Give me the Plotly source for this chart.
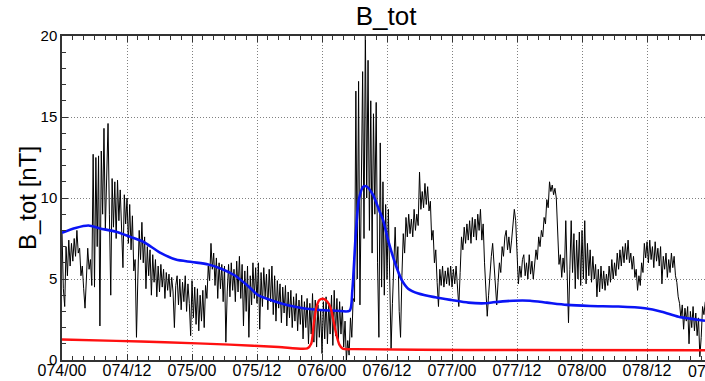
import numpy as np
import plotly.graph_objects as go

# Field magnitude, one sample every 15 minutes starting at 074/00
step_h = 0.25
b_tot = [
    # 074/00 - 074/05:45
    7.9, 4.4, 3.3, 7.0, 5.2, 7.4, 5.8, 7.2, 6.1, 7.5, 6.4, 8.0,
    6.6, 6.9, 5.2, 5.8, 4.4, 3.2, 5.0, 6.9, 5.6, 6.2, 4.6, 12.7,
    # 074/06 - 074/11:45
    4.5, 12.5, 7.0, 12.6, 2.1, 12.9, 9.0, 14.3, 8.0, 11.5, 14.6, 9.0,
    4.0, 11.2, 8.2, 11.0, 7.5, 11.1, 8.6, 10.5, 7.8, 5.7, 10.2, 8.4,
    # 074/12 - 074/17:45
    10.0, 7.2, 9.6, 6.8, 8.9, 5.5, 6.2, 1.4, 5.0, 8.0, 6.2, 8.5,
    6.0, 7.6, 4.4, 7.0, 5.2, 6.8, 4.0, 6.5, 4.8, 6.2, 3.9, 5.8,
    # 074/18 - 074/23:45
    4.2, 5.9, 4.5, 5.6, 3.8, 5.4, 4.3, 5.3, 3.9, 5.1, 4.2, 2.0,
    4.6, 5.2, 3.4, 5.0, 3.1, 4.8, 3.6, 5.2, 3.0, 4.7, 3.5, 1.5,
    # 075/00 - 075/05:45
    4.9, 2.6, 4.5, 2.2, 4.4, 1.8, 4.0, 2.4, 4.3, 2.0, 4.6, 3.8,
    5.8, 4.9, 7.2, 5.6, 6.6, 4.6, 6.3, 3.8, 6.0, 4.4, 5.9, 3.6,
    # 075/06 - 075/11:45
    5.8, 1.1, 4.2, 5.9, 3.9, 6.0, 4.3, 5.6, 3.6, 6.1, 4.2, 6.4,
    3.8, 5.9, 2.1, 5.5, 3.0, 5.8, 1.4, 5.2, 3.4, 6.0, 3.8, 5.7,
    # 075/12 - 075/17:45
    3.5, 6.0, 1.9, 5.4, 3.3, 5.7, 3.9, 5.3, 3.1, 5.6, 3.6, 5.8,
    2.8, 5.2, 2.4, 4.9, 3.2, 4.7, 2.3, 4.5, 2.9, 4.6, 2.1, 4.2,
    # 075/18 - 075/23:45
    2.6, 4.3, 2.0, 3.9, 2.4, 4.1, 1.8, 3.7, 2.2, 4.0, 1.3, 3.6,
    2.0, 3.8, 1.0, 3.5, 1.6, 4.1, 1.1, 3.7, 0.8, 3.4, 1.4, 3.1,
    # 076/00 - 076/05:45
    0.4, 3.6, 1.3, 3.9, 1.0, 3.5, 1.6, 4.0, 0.9, 4.3, 1.5, 3.8,
    1.2, 3.6, 1.6, 3.3, 0.8, 2.4, 0.0, 1.2, 0.3, 2.6, 1.4, 3.8,
    # 076/06 - 076/11:45
    3.6, 16.6, 5.0, 17.2, 3.4, 12.0, 17.8, 7.5, 20.4, 10.0, 18.5, 8.0,
    16.0, 6.6, 15.2, 9.0, 15.9, 6.0, 1.4, 13.4, 4.5, 11.0, 4.0, 9.6,
    # 076/12 - 076/17:45
    5.0, 9.3, 4.1, 0.7, 3.5, 6.4, 8.2, 5.6, 7.0, 3.0, 1.4, 5.2,
    7.8, 6.6, 8.8, 7.6, 9.0, 7.8, 8.7, 7.6, 9.3, 8.0, 9.0, 8.3,
    # 076/18 - 076/23:45
    11.6, 9.3, 10.4, 9.4, 10.9, 9.6, 10.7, 9.2, 9.8, 7.4, 8.0, 6.0,
    6.8, 4.8, 3.3, 5.6, 4.6, 5.8, 4.5, 5.5, 4.7, 5.7, 4.6, 5.8,
    # 077/00 - 077/05:45
    4.5, 5.6, 4.7, 5.8, 4.6, 3.3, 5.4, 7.6, 6.8, 8.2, 7.2, 8.4,
    7.4, 8.6, 7.2, 8.8, 7.6, 8.7, 7.4, 9.0, 8.0, 9.3, 7.4, 8.4,
    # 077/06 - 077/11:45
    6.0, 4.2, 2.7, 4.0, 5.6, 6.4, 7.2, 5.8, 4.6, 3.4, 4.8, 6.0,
    5.4, 7.0, 6.4, 7.6, 8.0, 6.8, 7.6, 6.6, 7.4, 8.4, 9.3, 8.6,
    # 077/12 - 077/17:45
    6.8, 4.7, 5.8, 5.1, 6.2, 6.5, 5.2, 6.0, 5.0, 6.5, 5.3, 6.1,
    5.0, 5.8, 6.8, 6.2, 7.6, 7.0, 8.0, 7.6, 8.8, 8.4, 9.9, 9.4,
    # 077/18 - 077/23:45
    11.0, 10.4, 10.8, 10.2, 10.6, 10.0, 7.8, 5.9, 6.5, 5.1, 6.3, 5.4,
    8.6, 4.6, 2.3, 5.6, 8.6, 5.4, 7.8, 4.4, 7.4, 5.0, 7.9, 4.6,
    # 078/00 - 078/05:45
    8.0, 5.0, 8.6, 4.7, 7.2, 5.2, 6.8, 4.8, 6.4, 5.0, 5.9, 3.9,
    5.6, 4.2, 5.8, 4.4, 5.5, 4.3, 5.3, 4.6, 5.8, 4.8, 6.2, 5.0,
    # 078/06 - 078/11:45
    6.0, 5.2, 6.6, 5.6, 6.8, 5.8, 7.0, 6.0, 7.2, 6.2, 7.4, 6.0,
    6.6, 5.6, 6.4, 5.1, 5.6, 4.3, 5.2, 4.6, 6.0, 5.4, 7.2, 6.3,
    # 078/12 - 078/17:45
    7.3, 6.0, 7.4, 6.2, 7.0, 5.7, 7.3, 6.1, 6.9, 5.8, 7.0, 4.7,
    6.4, 5.6, 6.6, 5.1, 6.2, 5.4, 6.6, 5.7, 6.4, 5.2, 4.8, 3.9,
    # 078/18 - 078/22:45
    3.5, 2.6, 3.4, 1.9, 3.2, 2.4, 3.3, 1.0, 3.0, 2.0, 3.3, 1.8,
    2.9, 1.5, 2.6, 0.2, 1.4, 3.3, 2.8, 3.6,
]
b_hours = np.arange(len(b_tot)) * step_h

# Smoothed background field (blue)
blue_hours = [0, 2.5, 4.9, 7, 10, 12.6, 15, 18, 21, 24, 27, 29.5, 32, 34.4,
              36.2, 38.5, 41.5, 44.5, 47.6, 50.7, 53.1, 53.6, 54.2, 54.8,
              55.6, 56.2, 57.4, 58.6, 59.3, 60.2, 61.5, 62.7, 63.9, 65.8,
              68.9, 71.9, 75, 78.1, 79.6, 83.3, 86.4, 89.5, 93.2, 97.5,
              102.7, 107.6, 110.7, 113.8, 116.8, 118.7]
blue_vals = [7.86, 8.15, 8.3, 8.12, 7.92, 7.6, 7.3, 6.65, 6.2, 6.05, 5.9,
             5.62, 5.2, 4.55, 4.0, 3.7, 3.39, 3.19, 3.09, 3.04, 3.04, 4.3,
             7.6, 9.9, 10.7, 10.72, 10.2, 9.2, 8.6, 7.4, 5.97, 4.94, 4.4,
             4.1, 3.87, 3.7, 3.54, 3.5, 3.56, 3.66, 3.66, 3.54, 3.4, 3.33,
             3.3, 3.19, 2.98, 2.67, 2.51, 2.42]

# Red trace
red_hours = [0, 10, 19, 31, 40, 45.3, 46.0, 46.5, 47.0, 47.5, 48.2, 49.0,
             49.6, 50.2, 50.7, 51.2, 51.8, 54, 75, 118.7]
red_vals = [1.27, 1.18, 1.1, 0.95, 0.8, 0.72, 1.0, 2.3, 3.3, 3.7, 3.78, 3.6,
            3.2, 2.3, 1.5, 0.95, 0.7, 0.67, 0.62, 0.6]

tick_hours = [0, 12, 24, 36, 48, 60, 72, 84, 96, 108, 120]
tick_text = ["074/00", "074/12", "075/00", "075/12", "076/00", "076/12",
             "077/00", "077/12", "078/00", "078/12", "079/00"]

x_range = [0, 118.7]
font = "Liberation Sans, Arial, Helvetica, sans-serif"
axis_col = "#333333"
grid_col = "#808080"

fig = go.Figure()
fig.add_trace(go.Scatter(x=b_hours, y=b_tot, mode="lines",
                         line=dict(color="black", width=1), showlegend=False))
fig.add_trace(go.Scatter(x=blue_hours, y=blue_vals, mode="lines",
                         line=dict(color="#0a14f5", width=2.6, shape="spline",
                                   smoothing=0.7), showlegend=False))
fig.add_trace(go.Scatter(x=red_hours, y=red_vals, mode="lines",
                         line=dict(color="#ff1010", width=2.4, shape="spline",
                                   smoothing=0.7), showlegend=False))

fig.update_layout(
    width=705, height=381,
    margin=dict(l=62, r=0, t=36, b=21, autoexpand=False),
    paper_bgcolor="white", plot_bgcolor="white",
    font=dict(family=font, color="black"),
    title=dict(text="B_tot", x=386 / 705, xref="container", xanchor="center",
               y=1 - 16.3 / 381, yref="container", yanchor="middle",
               font=dict(size=26, family=font, color="black"),
               automargin=False),
)

fig.update_xaxes(
    range=x_range, tickmode="array", automargin=False,
    tickvals=tick_hours[:-1], ticktext=tick_text[:-1],
    ticks="inside", ticklen=6, tickcolor=axis_col, tickwidth=1,
    ticklabelstandoff=-5,
    showline=True, linecolor=axis_col, linewidth=1.5, mirror="ticks",
    showgrid=True, gridcolor=grid_col, griddash="1px,2px", gridwidth=1,
    zeroline=False, tickfont=dict(size=16, family=font, color="black"),
    minor=dict(tickmode="linear", tick0=0, dtick=2, ticks="inside",
               ticklen=4, tickcolor=axis_col, showgrid=False),
)
fig.update_yaxes(
    range=[0, 20], tickmode="array", tickvals=[0, 5, 10, 15, 20],
    automargin=False,
    ticks="inside", ticklen=6, tickcolor=axis_col, tickwidth=1,
    showline=True, linecolor=axis_col, linewidth=1.5, mirror=False,
    showgrid=True, gridcolor=grid_col, griddash="1px,2px", gridwidth=1,
    zeroline=False, tickfont=dict(size=15, family=font, color="black"),
    minor=dict(tickmode="linear", tick0=0, dtick=1, ticks="inside",
               ticklen=4, tickcolor=axis_col, showgrid=False),
)

# Axis title drawn as rotated text beside the tick labels
fig.add_annotation(text="B_tot [nT]", textangle=-90, xref="paper", yref="paper",
                   x=(27 - 62) / 643, y=0.5, xanchor="center", yanchor="middle",
                   showarrow=False, font=dict(size=24, family=font, color="black"))

# Label of the next day boundary, just past the right end of the axis
frac = (tick_hours[-1] - x_range[0]) / (x_range[1] - x_range[0])
fig.add_annotation(text=tick_text[-1], xref="paper", yref="paper", x=frac, y=0,
                   xanchor="center", yanchor="middle", yshift=-11,
                   showarrow=False, font=dict(size=16, family=font, color="black"))

fig.write_html("out.html")
